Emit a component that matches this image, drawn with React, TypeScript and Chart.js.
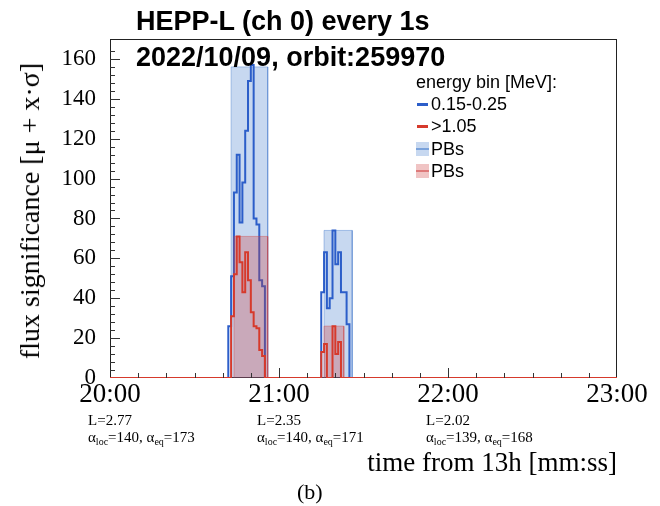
import React, { useEffect, useRef, useState } from 'react';
import { Chart, registerables } from 'chart.js';

Chart.register(...registerables);

// time axis: seconds after 13:20:00
const xMin = 0;
const xMax = 180;
const xTickLabels = ['20:00', '21:00', '22:00', '23:00'];
const yMax = 170;

// 1-second bins, energy bin 0.15-0.25 MeV
const burstStarts = [43, 76];
const lowEnergyBurst1 = [26, 51, 93, 112, 78, 98, 124, 149, 157, 80, 77, 49, 46];
const lowEnergyBurst2 = [43, 63, 35, 40, 74, 57, 63, 43, 43, 27];
// energy bin >1.05 MeV
const highEnergyBurst1 = [0, 31, 52, 71, 58, 43, 63, 49, 33, 26, 25, 14, 11];
const highEnergyBurst2 = [13, 17, 0, 0, 26, 12, 18];

// particle bursts (PBs)
const pbLowStart = [43, 76];
const pbLowEnd = [56, 86];
const pbLowTop = [156, 74];
const pbHighStart = [44, 76];
const pbHighEnd = [56, 83];
const pbHighTop = [71, 26];

// orbit annotations under the axis
const annotTimes = [0, 60, 120];
const annotL = ['2.77', '2.35', '2.02'];
const annotLoc = ['140', '140', '139'];
const annotEq = ['173', '171', '168'];

const legendTitle = 'energy bin [MeV]:';
const legendLabels = ['0.15-0.25', '>1.05', 'PBs', 'PBs'];

const BLUE = '#2c5ec9';
const RED = '#d63a2c';
const BLUE_FILL = 'rgba(70,125,205,0.30)';
const BLUE_EDGE = 'rgba(70,125,205,0.45)';
const RED_FILL = 'rgba(205,60,60,0.30)';
const RED_EDGE = 'rgba(205,60,60,0.40)';

function buildHist(starts: number[], series: number[][]) {
  const vals = new Array(xMax - xMin).fill(0);
  starts.forEach((s, i) => {
    series[i].forEach((v, j) => {
      vals[s + j - xMin] = v;
    });
  });
  const pts = vals.map((v: number, i: number) => ({ x: xMin + i, y: v }));
  pts.push({ x: xMax, y: 0 });
  return pts;
}

function buildBoxes(starts: number[], ends: number[], tops: number[]) {
  const pts: { x: number; y: number }[] = [];
  starts.forEach((s, i) => {
    pts.push({ x: s, y: 0 }, { x: s, y: tops[i] }, { x: ends[i], y: tops[i] }, { x: ends[i], y: 0 });
  });
  return pts;
}

const axisPlugin = {
  id: 'rootAxes',
  beforeDatasetsDraw(chart: any) {
    const { ctx, chartArea: a } = chart;
    ctx.save();
    ctx.strokeStyle = '#222';
    ctx.lineWidth = 1;
    ctx.strokeRect(a.left + 0.5, a.top + 0.5, a.right - a.left - 1, a.bottom - a.top - 1);
    ctx.restore();
  },
  afterDatasetsDraw(chart: any) {
    const { ctx, chartArea: a, scales } = chart;
    ctx.save();
    ctx.strokeStyle = '#333';
    ctx.lineWidth = 1;
    ctx.beginPath();
    scales.x.ticks.forEach((t: any) => {
      if (t.value <= xMin || t.value >= xMax || t.value % 10 !== 0) return;
      const px = Math.round(scales.x.getPixelForValue(t.value)) + 0.5;
      const len = t.value % 60 === 0 ? 10 : 5;
      ctx.moveTo(px, a.bottom);
      ctx.lineTo(px, a.bottom - len);
    });
    scales.y.ticks.forEach((t: any) => {
      if (t.value <= 0 || t.value % 4 !== 0) return;
      const py = Math.round(scales.y.getPixelForValue(t.value)) + 0.5;
      const len = t.value % 20 === 0 ? 10 : 5;
      ctx.moveTo(a.left, py);
      ctx.lineTo(a.left + len, py);
    });
    ctx.stroke();
    ctx.restore();
  },
};

export default function App() {
  const canvasRef = useRef<HTMLCanvasElement | null>(null);
  const [annX, setAnnX] = useState<number[]>([]);

  useEffect(() => {
    const canvas = canvasRef.current;
    if (!canvas) return;
    const chart = new Chart(canvas, {
      type: 'line',
      data: {
        datasets: [
          {
            label: legendLabels[1],
            data: buildHist(burstStarts, [highEnergyBurst1, highEnergyBurst2]),
            borderColor: RED,
            borderWidth: 2,
            stepped: 'after',
            pointRadius: 0,
            fill: false,
            order: 0,
          },
          {
            label: legendLabels[3],
            data: buildBoxes(pbHighStart, pbHighEnd, pbHighTop),
            borderColor: RED_EDGE,
            backgroundColor: RED_FILL,
            borderWidth: 1,
            pointRadius: 0,
            fill: 'origin',
            order: 1,
          },
          {
            label: legendLabels[0],
            data: buildHist(burstStarts, [lowEnergyBurst1, lowEnergyBurst2]),
            borderColor: BLUE,
            borderWidth: 2,
            stepped: 'after',
            pointRadius: 0,
            fill: false,
            order: 2,
          },
          {
            label: legendLabels[2],
            data: buildBoxes(pbLowStart, pbLowEnd, pbLowTop),
            borderColor: BLUE_EDGE,
            backgroundColor: BLUE_FILL,
            borderWidth: 1,
            pointRadius: 0,
            fill: 'origin',
            order: 3,
          },
        ],
      },
      options: {
        animation: false,
        responsive: false,
        devicePixelRatio: 1,
        layout: { padding: { left: 0, right: 43, top: 39, bottom: 0 } },
        plugins: { legend: { display: false }, tooltip: { enabled: false } },
        scales: {
          x: {
            type: 'linear',
            min: xMin,
            max: xMax,
            grid: { display: false, drawTicks: false },
            border: { display: false },
            ticks: {
              stepSize: 10,
              autoSkip: false,
              maxRotation: 0,
              padding: 1,
              color: '#000',
              font: { family: 'Liberation Serif', size: 27 },
              callback: (v: any) => (Number(v) % 60 === 0 ? xTickLabels[Number(v) / 60] : ''),
            },
            afterFit: (s: any) => {
              s.height = 128;
            },
          },
          y: {
            type: 'linear',
            min: 0,
            max: yMax,
            grid: { display: false, drawTicks: false },
            border: { display: false },
            ticks: {
              stepSize: 4,
              autoSkip: false,
              padding: 14,
              color: '#000',
              font: { family: 'Liberation Serif', size: 23 },
              callback: (v: any) => (Number(v) % 20 === 0 ? String(v) : ''),
            },
            afterFit: (s: any) => {
              s.width = 110;
            },
          },
        },
      },
      plugins: [axisPlugin],
    } as any);
    setAnnX(annotTimes.map((t) => chart.scales.x.getPixelForValue(t)));
    return () => {
      chart.destroy();
    };
  }, []);

  const serif = '"Liberation Serif", "Times New Roman", serif';
  const sans = '"Liberation Sans", Arial, Helvetica, sans-serif';
  const abs = (left: number, cy: number, size: number, extra: any = {}) => ({
    position: 'absolute' as const,
    left,
    top: cy - size / 2,
    fontSize: size,
    lineHeight: `${size}px`,
    whiteSpace: 'nowrap' as const,
    color: '#000',
    ...extra,
  });

  const legendMarkers = [
    { type: 'line', color: BLUE },
    { type: 'line', color: RED },
    { type: 'box', fill: BLUE_FILL, line: 'rgba(70,125,205,0.6)' },
    { type: 'box', fill: RED_FILL, line: 'rgba(205,60,60,0.55)' },
  ];
  const legendY = [104, 126, 149, 171];

  return (
    <div style={{ position: 'fixed', left: 0, top: 0, width: 660, height: 506, background: '#fff', overflow: 'hidden' }}>
      <canvas ref={canvasRef} width={660} height={506} style={{ position: 'absolute', left: 0, top: 0, width: 660, height: 506 }} />
      <div style={abs(136, 21, 27, { fontFamily: sans, fontWeight: 'bold' })}>HEPP-L (ch 0) every 1s</div>
      <div style={abs(136, 57, 27, { fontFamily: sans, fontWeight: 'bold' })}>2022/10/09, orbit:259970</div>

      <div style={abs(416, 82, 18, { fontFamily: sans })}>{legendTitle}</div>
      {legendLabels.map((lab, i) => (
        <React.Fragment key={i}>
          {legendMarkers[i].type === 'line' ? (
            <div style={{ position: 'absolute', left: 417, top: legendY[i] - 1.5, width: 11, height: 3, background: legendMarkers[i].color }} />
          ) : (
            <div style={{ position: 'absolute', left: 416, top: legendY[i] - 7, width: 13, height: 14, background: legendMarkers[i].fill }}>
              <div style={{ position: 'absolute', left: 0, top: 6, width: 13, height: 2, background: legendMarkers[i].line }} />
            </div>
          )}
          <div style={abs(431, legendY[i], 18, { fontFamily: sans })}>{lab}</div>
        </React.Fragment>
      ))}

      <div
        style={{
          position: 'absolute',
          left: 30,
          top: 211,
          transform: 'translate(-50%, -50%) rotate(-90deg)',
          fontFamily: serif,
          fontSize: 28,
          lineHeight: '28px',
          whiteSpace: 'nowrap',
          color: '#000',
        }}
      >
        flux significance [μ + x·σ]
      </div>

      {annX.map((x, i) => (
        <React.Fragment key={i}>
          <div style={abs(x - 22, 420, 15, { fontFamily: serif })}>L={annotL[i]}</div>
          <div style={abs(x - 22, 437, 15, { fontFamily: serif })}>
            α<sub style={{ fontSize: 10, verticalAlign: '-3px' }}>loc</sub>={annotLoc[i]}, α
            <sub style={{ fontSize: 10, verticalAlign: '-3px' }}>eq</sub>={annotEq[i]}
          </div>
        </React.Fragment>
      ))}

      <div style={{ ...abs(0, 462, 27, { fontFamily: serif }), left: 'auto', right: 660 - 617 }}>time from 13h [mm:ss]</div>
      <div style={abs(297, 492, 22, { fontFamily: serif })}>(b)</div>
    </div>
  );
}
